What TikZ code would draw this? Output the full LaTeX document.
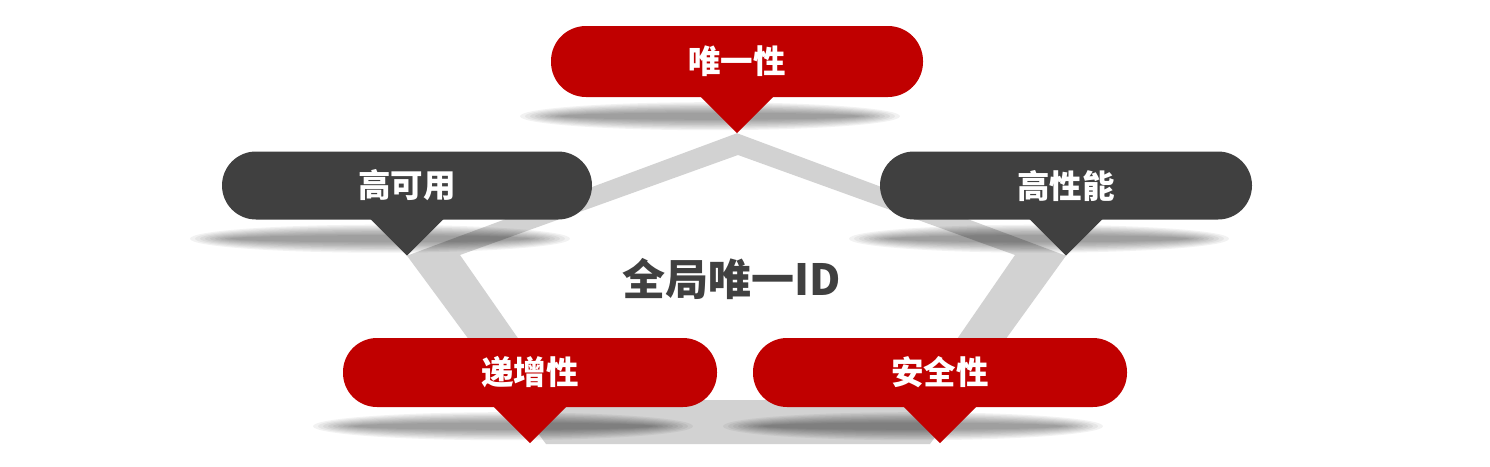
\documentclass[tikz,border=0pt]{standalone}
\usepackage{fontspec}
\usepackage{tikz}
\usepackage{xcolor}
\usetikzlibrary{calc, backgrounds}
\newfontfamily\cjkfont{Noto Sans CJK SC}
\definecolor{cRed}{RGB}{192,0,0}
\definecolor{cDark}{RGB}{64,64,64}
\definecolor{cBand}{RGB}{210,210,210}
\tikzset{
	pill/.style     ={rectangle, rounded corners=34pt, minimum width=372pt, minimum height=68pt, inner sep=0pt, text=white, font=\cjkfont\bfseries\fontsize{32.5}{32.5}\selectfont},
	redpill/.style  ={pill, fill=cRed},
	darkpill/.style ={pill, fill=cDark},
	title/.style    ={text=cDark, font=\cjkfont\bfseries\fontsize{43}{43}\selectfont},
	% soft shadow under each callout
	shade/.style    ={black, fill opacity=0.05},
}

\begin{document}
\begin{tikzpicture}[x=1pt, y=-1pt]
	\useasboundingbox (0,0) rectangle (1490,466);
	% callouts
	\node[redpill, minimum height=71pt, rounded corners=35pt] (uniq) at (737,61.5) {唯一性};
	\node[darkpill, minimum width=370pt] (avail) at (407,185.5) {高可用};
	\node[darkpill] (perf) at (1066,185.5) {高性能};
	\node[redpill, minimum width=374pt, minimum height=69pt] (incr) at (530,372.5) {递增性};
	\node[redpill, minimum width=374pt, minimum height=69pt] (safe) at (940,372.5) {安全性};
	\foreach \n/\c in {uniq/cRed, avail/cDark, perf/cDark, incr/cRed, safe/cRed} {
		\coordinate (\n-tip) at ($(\n.south)+(0,36)$);
		\fill[\c] ($(\n.south)+(-37,-1)$) -- ($(\n.south)+(37,-1)$) -- (\n-tip) -- cycle;
	}
	\node[title] (id) at (732,279) {全局唯一ID};
	\begin{scope}[on background layer]
		% pentagon ring
		\fill[cBand, even odd rule] (uniq-tip) -- (perf-tip) -- (930,444) -- (546,444) -- (avail-tip) -- cycle
			(738,155) -- (1015,255) -- (915,400) -- (561,400) -- (460,255) -- cycle;
		\foreach \n in {uniq, avail, perf, incr, safe} {
			\foreach \i in {0,...,8} {
				\fill[shade] ($(\n.south)+(-27,19)$) ellipse [x radius={190pt-\i*5pt}, y radius={14pt-\i*1.3pt}];
			}
		}
	\end{scope}
\end{tikzpicture}
\end{document}
